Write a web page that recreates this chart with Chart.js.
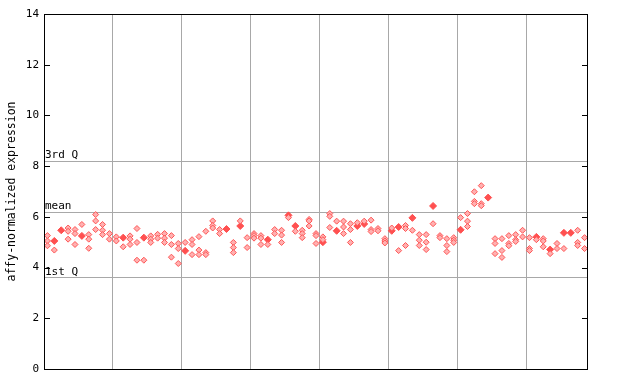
<!DOCTYPE html>
<html>
<head>
<meta charset="utf-8">
<script src="https://cdn.jsdelivr.net/npm/chart.js@4/dist/chart.umd.min.js"></script>
<style>
  html, body { margin: 0; padding: 0; background: #fff; }
  #wrap { width: 640px; height: 384px; }
</style>
</head>
<body>
<div id="wrap"><canvas id="grafica" width="640" height="384"></canvas></div>
<script>
// replicate values per sample (left to right)
let hollowValues = [
  [5.26, 5.05, 4.86], [4.69], [], [5.56, 5.43, 5.12], [5.5, 5.34, 4.91],
  [5.7], [5.3, 5.12, 4.76], [6.09, 5.84, 5.5], [5.7, 5.47, 5.3], [5.34, 5.12],
  [5.21, 5.05], [4.82], [5.25, 5.12, 4.91], [5.54, 4.99, 4.29], [4.29],
  [5.25, 5.12, 4.99], [5.31, 5.16], [5.34, 5.16, 4.99], [5.26, 4.91, 4.41], [4.95, 4.75, 4.16],
  [4.99], [5.1, 4.91, 4.51], [5.22, 4.69, 4.51], [5.43, 4.59, 4.51], [5.84, 5.66, 5.56],
  [5.5, 5.34], [], [4.99, 4.79, 4.59], [5.84], [5.18, 4.79],
  [5.34, 5.26, 5.16], [5.26, 5.16, 4.91], [4.91], [5.5, 5.34], [5.47, 5.28, 4.99],
  [5.97], [5.43], [5.47, 5.34, 5.18], [5.9, 5.84, 5.64], [5.34, 5.26, 4.95],
  [5.21, 5.1], [6.13, 6.02, 5.58], [5.83], [5.83, 5.6, 5.34], [5.73, 5.5, 4.99],
  [5.77], [5.83], [5.87, 5.5, 5.42], [5.54, 5.45], [5.14, 5.05, 4.97],
  [5.56], [4.67], [5.66, 5.54, 4.87], [5.47], [5.3, 5.08, 4.87],
  [5.3, 5.0, 4.71], [5.73], [5.26, 5.18], [5.14, 4.87, 4.63], [5.18, 5.08, 4.99],
  [5.97], [6.13, 5.83, 5.62], [6.99, 6.61, 6.52], [7.23, 6.52, 6.44], [],
  [5.14, 4.95, 4.55], [5.14, 4.67, 4.4], [5.26, 4.95, 4.86], [5.3, 5.1, 5.03], [5.47, 5.21],
  [5.18, 4.75, 4.67], [5.1], [5.14, 5.05, 4.82], [4.55], [4.95, 4.75],
  [4.75], [], [5.47, 4.99, 4.87], [5.18, 4.75]
];
// samples drawn as filled diamonds: sample index and value
let solidIndex = [1, 2, 5, 11, 14, 20, 26, 28, 32, 35, 36, 40, 42, 45, 46, 50, 51, 53, 56, 60, 64, 71, 73, 75, 76];
let solidValues = [5.05, 5.47, 5.25, 5.18, 5.18, 4.66, 5.52, 5.64, 5.1, 6.06, 5.64, 5.0, 5.45, 5.64, 5.72, 5.45, 5.6, 5.96, 6.43, 5.49, 6.76, 5.21, 4.71, 5.37, 5.37];

let yTicks = [0, 2, 4, 6, 8, 10, 12, 14];
let refLines = [
  { label: "3rd Q", value: 8.22 },
  { label: "mean", value: 6.21 },
  { label: "1st Q", value: 3.62 }
];
let nSamples = hollowValues.length;
let groupSize = 10;

let hollowPts = [];
hollowValues.forEach(function (vals, i) {
  vals.forEach(function (v) { hollowPts.push({ x: i + 0.5, y: v }); });
});
let solidPts = solidIndex.map(function (idx, k) {
  return { x: idx + 0.5, y: solidValues[k] };
});

const FONT = "DejaVu Sans Mono";

// frame, inner tick marks, reference lines and their labels
const extras = {
  id: "extras",
  beforeDatasetsDraw(chart) {
    let ctx = chart.ctx;
    let a = chart.chartArea;
    let ys = chart.scales.y;
    ctx.save();
    ctx.strokeStyle = "#a8a8a8";
    ctx.lineWidth = 1;
    refLines.forEach(function (r) {
      let py = Math.round(ys.getPixelForValue(r.value)) + 0.5;
      ctx.beginPath();
      ctx.moveTo(a.left, py);
      ctx.lineTo(a.right, py);
      ctx.stroke();
    });
    ctx.restore();
  },
  afterDatasetsDraw(chart) {
    let ctx = chart.ctx;
    let a = chart.chartArea;
    let ys = chart.scales.y;
    ctx.save();
    ctx.strokeStyle = "#000";
    ctx.lineWidth = 1;
    ctx.strokeRect(Math.round(a.left) + 0.5, Math.round(a.top) + 0.5,
      Math.round(a.right - a.left) - 1, Math.round(a.bottom - a.top));
    yTicks.forEach(function (t) {
      let py = Math.round(ys.getPixelForValue(t)) + 0.5;
      ctx.beginPath();
      ctx.moveTo(a.left, py);
      ctx.lineTo(a.left + 6, py);
      ctx.moveTo(a.right - 6, py);
      ctx.lineTo(a.right, py);
      ctx.stroke();
    });
    ctx.fillStyle = "#000";
    ctx.font = "11px '" + FONT + "'";
    ctx.textAlign = "left";
    ctx.textBaseline = "bottom";
    refLines.forEach(function (r) {
      let py = ys.getPixelForValue(r.value);
      ctx.fillText(r.label, a.left + 1, py);
    });
    ctx.font = "11.5px '" + FONT + "'";
    ctx.translate(12, (a.top + a.bottom) / 2);
    ctx.rotate(-Math.PI / 2);
    ctx.textAlign = "center";
    ctx.textBaseline = "middle";
    ctx.fillText("affy-normalized expression", 0, 0);
    ctx.restore();
  }
};

let ctx = document.getElementById("grafica").getContext("2d");
let miGrafica = new Chart(ctx, {
  type: "scatter",
  data: {
    datasets: [
      {
        label: "replicates",
        data: hollowPts,
        pointStyle: "rectRot",
        pointRadius: 3,
        backgroundColor: "#ffb0b0",
        borderColor: "#ff5555",
        borderWidth: 1
      },
      {
        label: "filled",
        data: solidPts,
        pointStyle: "rectRot",
        pointRadius: 3.5,
        backgroundColor: "#ff5050",
        borderColor: "#ff5050",
        borderWidth: 1
      }
    ]
  },
  plugins: [extras],
  options: {
    responsive: false,
    animation: false,
    layout: { padding: { top: 14, right: 52, bottom: 15, left: 0 } },
    plugins: {
      legend: { display: false },
      tooltip: { enabled: false }
    },
    scales: {
      x: {
        type: "linear",
        min: 0,
        max: nSamples,
        ticks: { display: false, stepSize: groupSize },
        grid: {
          color: function (c) {
            let v = c.tick.value;
            return (v > 0 && v < nSamples) ? "#a8a8a8" : "rgba(0,0,0,0)";
          },
          drawTicks: false
        },
        border: { display: false },
        afterFit: function (s) { s.height = 0; }
      },
      y: {
        min: 0,
        max: 14,
        afterBuildTicks: function (s) {
          s.ticks = yTicks.map(function (v) { return { value: v }; });
        },
        ticks: {
          color: "#000",
          padding: 5,
          font: { family: FONT, size: 11 }
        },
        grid: { display: false, drawTicks: false },
        border: { display: false },
        afterFit: function (s) { s.width = 44; }
      }
    }
  }
});
</script>
</body>
</html>
